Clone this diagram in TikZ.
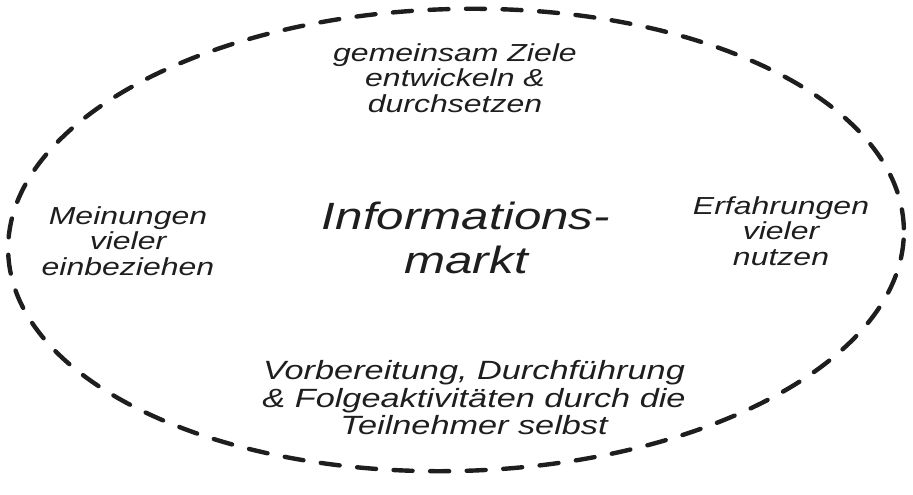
\documentclass[tikz,border=0pt]{standalone}
\usepackage{fontspec}
\usepackage{xcolor}
\usepackage{tikz}
\usetikzlibrary{positioning}
\newfontfamily\handfont[FakeStretch=1.3]{Liberation Sans}
\definecolor{ink}{HTML}{1E1E1E}
\tikzset{
  hand/.style={text=ink, inner sep=0pt, align=center, font=\handfont\itshape\fontsize{7}{7.2}\selectfont},
  title/.style={hand, font=\handfont\itshape\fontsize{10.8}{12.5}\selectfont},
  rand/.style={draw=ink, line width=1.25pt, line cap=round, dash pattern=on 5.4pt off 5pt}
}
\begin{document}
\begin{tikzpicture}[x=0.01cm, y=0.01cm]
  \useasboundingbox (0,0) rectangle (913,-495);

  %% dashed outline
  \draw[rand, rotate around={1.5:(456,-240)}] (456,-240) ellipse [x radius=448, y radius=231];

  %% center
  \node[title] (markt) at (466,-238) {Informations-\\markt};

  %% around
  \node[hand] (ziele) at (455,-78) {gemeinsam Ziele\\entwickeln \&\\durchsetzen};
  \node[hand] (meinungen) at (128,-241) {Meinungen\\vieler\\einbeziehen};
  \node[hand] (erfahrungen) at (781,-231) {Erfahrungen\\vieler\\nutzen};
  \node[hand, font=\handfont\itshape\fontsize{7.5}{7.8}\selectfont] (teilnehmer) at (474,-398)
        {Vorbereitung, Durchführung\\\& Folgeaktivitäten durch die\\Teilnehmer selbst};

\end{tikzpicture}
\end{document}
